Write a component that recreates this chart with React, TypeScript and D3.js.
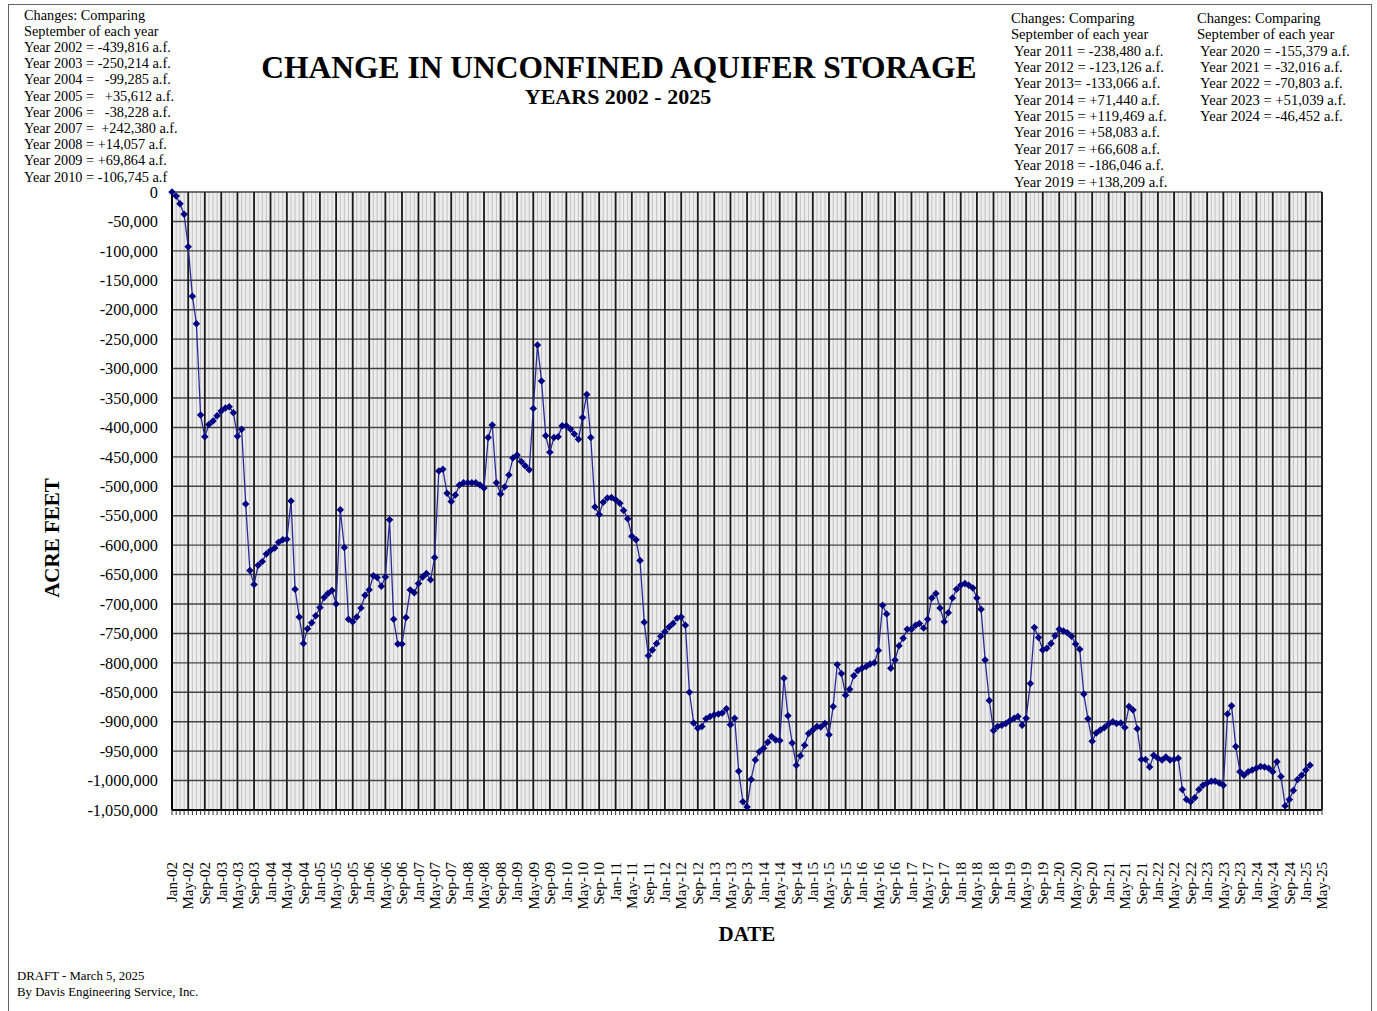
import { useEffect, useRef } from 'react';
import * as d3 from 'd3';

// monthly storage change, acre feet, starting Jan-02
const startMonth = new Date(2002, 0, 1);
const endMonth = new Date(2025, 4, 1);

const storage = [
  0, -7000, -20000, -38000, -93000, -177000, -224000, -379000, -416000, -395000, -389000, -380000,
  -372000, -367000, -365000, -375000, -415000, -403000, -530000, -643000, -667000, -634000, -628000, -615000,
  -609000, -605000, -595000, -591000, -590000, -525000, -675000, -722000, -767000, -742000, -732000, -720000,
  -706000, -689000, -682000, -677000, -700000, -540000, -604000, -726000, -730000, -722000, -707000, -685000,
  -676000, -652000, -655000, -670000, -654000, -557000, -726000, -768000, -768000, -723000, -676000, -681000,
  -665000, -654000, -648000, -659000, -621000, -474000, -471000, -512000, -526000, -515000, -498000, -494000,
  -494000, -494000, -494000, -498000, -503000, -417000, -396000, -494000, -513000, -501000, -481000, -452000,
  -447000, -458000, -465000, -472000, -368000, -260000, -321000, -414000, -442000, -417000, -416000, -397000,
  -397000, -403000, -411000, -420000, -383000, -344000, -417000, -535000, -548000, -527000, -520000, -519000,
  -523000, -529000, -541000, -555000, -585000, -591000, -626000, -731000, -788000, -778000, -767000, -755000,
  -747000, -739000, -733000, -724000, -722000, -736000, -850000, -902000, -911000, -908000, -895000, -891000,
  -888000, -887000, -885000, -878000, -905000, -894000, -984000, -1036000, -1045000, -998000, -965000, -951000,
  -945000, -935000, -925000, -931000, -932000, -826000, -890000, -936000, -974000, -958000, -940000, -920000,
  -914000, -908000, -909000, -903000, -922000, -874000, -803000, -818000, -855000, -845000, -822000, -813000,
  -809000, -806000, -802000, -800000, -779000, -702000, -717000, -809000, -795000, -771000, -758000, -743000,
  -743000, -736000, -733000, -741000, -726000, -690000, -682000, -707000, -730000, -715000, -690000, -675000,
  -668000, -665000, -668000, -673000, -690000, -709000, -795000, -864000, -915000, -908000, -906000, -903000,
  -898000, -894000, -891000, -906000, -894000, -835000, -740000, -757000, -778000, -775000, -767000, -754000,
  -743000, -746000, -749000, -755000, -768000, -777000, -853000, -895000, -933000, -919000, -914000, -910000,
  -904000, -900000, -903000, -902000, -910000, -874000, -880000, -912000, -964000, -964000, -977000, -957000,
  -962000, -965000, -960000, -965000, -964000, -962000, -1015000, -1032000, -1036000, -1029000, -1015000, -1008000,
  -1004000, -1001000, -1001000, -1004000, -1008000, -887000, -873000, -942000, -985000, -991000, -985000, -982000,
  -979000, -976000, -977000, -979000, -985000, -968000, -993000, -1043000, -1032000, -1017000, -998000, -991000,
  -982000, -974000,
];

const leftNotes = [
  'Changes: Comparing',
  'September of each year',
  'Year 2002 = -439,816 a.f.',
  'Year 2003 = -250,214 a.f.',
  'Year 2004 =   -99,285 a.f.',
  'Year 2005 =   +35,612 a.f.',
  'Year 2006 =   -38,228 a.f.',
  'Year 2007 =  +242,380 a.f.',
  'Year 2008 = +14,057 a.f.',
  'Year 2009 = +69,864 a.f.',
  'Year 2010 = -106,745 a.f',
];
const midNotes = [
  'Changes: Comparing',
  'September of each year',
  ' Year 2011 = -238,480 a.f.',
  ' Year 2012 = -123,126 a.f.',
  ' Year 2013= -133,066 a.f.',
  ' Year 2014 = +71,440 a.f.',
  ' Year 2015 = +119,469 a.f.',
  ' Year 2016 = +58,083 a.f.',
  ' Year 2017 = +66,608 a.f.',
  ' Year 2018 = -186,046 a.f.',
  ' Year 2019 = +138,209 a.f.',
];
const rightNotes = [
  'Changes: Comparing',
  'September of each year',
  ' Year 2020 = -155,379 a.f.',
  ' Year 2021 = -32,016 a.f.',
  ' Year 2022 = -70,803 a.f.',
  ' Year 2023 = +51,039 a.f.',
  ' Year 2024 = -46,452 a.f.',
];

const width = 1377;
const height = 1011;
const plot = { left: 172, right: 1322, top: 192, bottom: 810 };
const serif = '"Liberation Serif", "Times New Roman", serif';

const App = () => {
  const svgRef = useRef(null);

  useEffect(() => {
    const svg = d3.select(svgRef.current);
    svg.selectAll('*').remove();

    const fmt = d3.formatLocale({ decimal: '.', thousands: ',', grouping: [3], currency: ['$', ''], minus: '-' }).format(',');

    const x = d3.scaleTime().domain([startMonth, endMonth]).range([plot.left, plot.right]);
    const y = d3.scaleLinear().domain([-1050000, 0]).range([plot.bottom, plot.top]);

    // outer frame
    svg.append('rect')
      .attr('x', 8.5).attr('y', 4.5).attr('width', 1363).attr('height', 1012)
      .attr('fill', 'white').attr('stroke', '#666').attr('stroke-width', 1);

    // plot background
    svg.append('rect')
      .attr('x', plot.left).attr('y', plot.top)
      .attr('width', plot.right - plot.left).attr('height', plot.bottom - plot.top)
      .attr('fill', '#ededed');

    const months = d3.timeMonth.range(startMonth, d3.timeMonth.offset(endMonth, 1));
    const majors = x.ticks(d3.timeMonth.every(4));

    // minor monthly grid
    svg.append('g').selectAll('line')
      .data(months)
      .join('line')
      .attr('x1', d => x(d)).attr('x2', d => x(d))
      .attr('y1', plot.top).attr('y2', plot.bottom)
      .attr('stroke', '#b8b8b8').attr('stroke-width', 0.8);

    // horizontal grid
    svg.append('g').selectAll('line')
      .data(y.ticks(21))
      .join('line')
      .attr('x1', plot.left).attr('x2', plot.right)
      .attr('y1', d => y(d)).attr('y2', d => y(d))
      .attr('stroke', '#444').attr('stroke-width', 1.4);

    // major vertical grid
    svg.append('g').selectAll('line')
      .data(majors)
      .join('line')
      .attr('x1', d => x(d)).attr('x2', d => x(d))
      .attr('y1', plot.top).attr('y2', plot.bottom)
      .attr('stroke', '#1a1a1a').attr('stroke-width', 1.8);

    // axes
    svg.append('line')
      .attr('x1', plot.left).attr('x2', plot.left).attr('y1', plot.top).attr('y2', plot.bottom)
      .attr('stroke', 'black').attr('stroke-width', 2);
    svg.append('line')
      .attr('x1', plot.left).attr('x2', plot.right).attr('y1', plot.bottom).attr('y2', plot.bottom)
      .attr('stroke', 'black').attr('stroke-width', 2);
    svg.append('line')
      .attr('x1', plot.right).attr('x2', plot.right).attr('y1', plot.top).attr('y2', plot.bottom)
      .attr('stroke', '#222').attr('stroke-width', 1.5);
    svg.append('g').selectAll('line')
      .data(months)
      .join('line')
      .attr('x1', d => x(d)).attr('x2', d => x(d))
      .attr('y1', plot.bottom).attr('y2', plot.bottom + 5)
      .attr('stroke', '#333').attr('stroke-width', 1);

    // y labels
    svg.append('g').selectAll('text')
      .data(y.ticks(21))
      .join('text')
      .attr('x', 158).attr('y', d => y(d)).attr('dy', '0.35em')
      .attr('text-anchor', 'end')
      .attr('font-family', serif).attr('font-size', 16.3)
      .text(d => fmt(d));

    // x labels
    svg.append('g').selectAll('text')
      .data(majors)
      .join('text')
      .attr('transform', d => `translate(${x(d)},862) rotate(-90)`)
      .attr('dy', '0.35em')
      .attr('text-anchor', 'end')
      .attr('font-family', serif).attr('font-size', 15)
      .text(d => d3.timeFormat('%b-%y')(d));

    // series
    const pts = storage.map((v, i) => [x(d3.timeMonth.offset(startMonth, i)), y(v)]);
    svg.append('path')
      .attr('d', d3.line()(pts))
      .attr('fill', 'none').attr('stroke', '#2a2a96').attr('stroke-width', 1.3);
    svg.append('g').selectAll('path')
      .data(pts)
      .join('path')
      .attr('transform', d => `translate(${d[0]},${d[1]}) rotate(45)`)
      .attr('d', d3.symbol(d3.symbolSquare, 28))
      .attr('fill', '#000080');

    // titles
    svg.append('text')
      .attr('x', 619).attr('y', 78).attr('text-anchor', 'middle')
      .attr('font-family', serif).attr('font-weight', 'bold').attr('font-size', 31.5)
      .text('CHANGE IN UNCONFINED AQUIFER STORAGE');
    svg.append('text')
      .attr('x', 618).attr('y', 104).attr('text-anchor', 'middle')
      .attr('font-family', serif).attr('font-weight', 'bold').attr('font-size', 22)
      .text('YEARS 2002 - 2025');
    svg.append('text')
      .attr('transform', 'translate(52,538) rotate(-90)')
      .attr('dy', '0.35em').attr('text-anchor', 'middle')
      .attr('font-family', serif).attr('font-weight', 'bold').attr('font-size', 21)
      .text('ACRE FEET');
    svg.append('text')
      .attr('x', 747).attr('y', 941).attr('text-anchor', 'middle')
      .attr('font-family', serif).attr('font-weight', 'bold').attr('font-size', 21)
      .text('DATE');

    // notes
    const notes = (lines, x0, y0, size, step) => {
      svg.append('g').selectAll('text')
        .data(lines)
        .join('text')
        .attr('x', x0).attr('y', (d, i) => y0 + i * step)
        .attr('font-family', serif).attr('font-size', size)
        .style('white-space', 'pre')
        .text(d => d);
    };
    notes(leftNotes, 24, 19.5, 14.3, 16.2);
    notes(midNotes, 1011, 23, 14.6, 16.35);
    notes(rightNotes, 1197, 23, 14.6, 16.35);

    svg.append('text')
      .attr('x', 17).attr('y', 980)
      .attr('font-family', serif).attr('font-size', 12.8)
      .text('DRAFT - March 5, 2025');
    svg.append('text')
      .attr('x', 17).attr('y', 996)
      .attr('font-family', serif).attr('font-size', 12.8)
      .text('By Davis Engineering Service, Inc.');
  }, []);

  return (
    <svg
      ref={svgRef}
      width={width}
      height={height}
      style={{ position: 'absolute', left: 0, top: 0, display: 'block', background: 'white' }}
    ></svg>
  );
};

export default App;
